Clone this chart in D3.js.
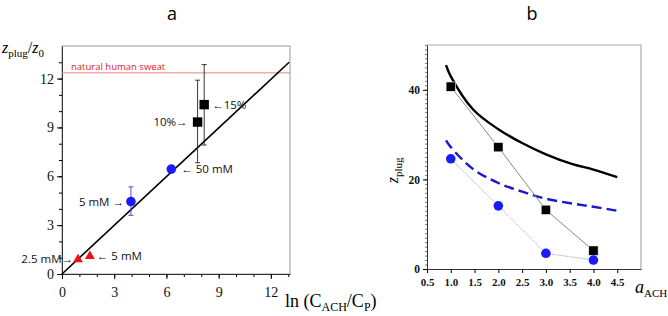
<!DOCTYPE html>
<html>
<head>
<meta charset="utf-8">
<script src="https://cdn.jsdelivr.net/npm/d3@7"></script>
<style>
  body { margin: 0; background: #fff; }
  svg { display: block; }
  .tick text { font-family: "Liberation Serif", serif; fill: #111; }
  .ann { font-family: "Open Sans", sans-serif; font-size: 11.5px; fill: #111; }
</style>
</head>
<body>
<div id="chart"></div>
<script>
// panel a: z_plug/z0 vs ln(C_ACH/C_P)
const triX = [0.92, 1.6], triY = [0.9, 1.1];
const circX = [3.96, 6.28], circY = [4.45, 6.44];
const circLo = [3.6, 6.44], circHi = [5.35, 6.44];
const sqX = [7.79, 8.17], sqY = [9.33, 10.4];
const sqLo = [6.83, 7.92], sqHi = [11.9, 12.86];
const fitX = [0, 13.05], fitY = [0, 13.0];
const sweatLevel = 12.35;
const aTicks = [0, 3, 6, 9, 12];

// panel b: z_plug vs a_ACH
const bX = [1, 2, 3, 4];
const bSq = [40.7, 27.2, 13.2, 4.1];
const bCirc = [24.6, 14.1, 3.5, 2.0];
const curveX = [0.9, 1.0, 1.47, 2.0, 2.52, 3.0, 3.56, 4.0, 4.5];
const curveBlack = [45.5, 43.0, 35.6, 31.2, 28.0, 25.6, 23.4, 22.2, 20.5];
const curveBlue = [28.7, 27.2, 22.3, 19.2, 17.2, 15.7, 14.6, 13.9, 13.0];
const bXTicks = [0.5, 1.0, 1.5, 2.0, 2.5, 3.0, 3.5, 4.0, 4.5];
const bYTicks = [0, 20, 40];

const W = 668, H = 316;
const svg = d3.select('#chart').append('svg').attr('width', W).attr('height', H);
svg.append('rect').attr('width', W).attr('height', H).attr('fill', '#fff');

// titles
svg.append('text').attr('x', 172).attr('y', 20).attr('text-anchor', 'middle')
  .attr('font-family', 'Open Sans, sans-serif').attr('font-size', 18).text('a');
svg.append('text').attr('x', 532).attr('y', 20).attr('text-anchor', 'middle')
  .attr('font-family', 'Open Sans, sans-serif').attr('font-size', 18).text('b');

// ---------- panel a ----------
const xa = d3.scaleLinear().domain([0, 13.1]).range([62, 290]);
const ya = d3.scaleLinear().domain([0, 14]).range([274, 46]);
const ga = svg.append('g');

ga.append('rect').attr('x', xa(0)).attr('y', ya(14))
  .attr('width', xa(13.1) - xa(0)).attr('height', ya(0) - ya(14))
  .attr('fill', 'none').attr('stroke', '#999').attr('stroke-width', 1);

// minor ticks
ga.append('g').attr('transform', `translate(0,${ya(0)})`)
  .call(d3.axisBottom(xa).tickValues(d3.range(0, 14, 1)).tickSize(3).tickFormat('').tickSizeOuter(0))
  .call(g => g.select('.domain').remove());
ga.append('g').attr('transform', `translate(${xa(0)},0)`)
  .call(d3.axisLeft(ya).tickValues(d3.range(0, 14, 1)).tickSize(3).tickFormat('').tickSizeOuter(0))
  .call(g => g.select('.domain').remove());
// major ticks
ga.append('g').attr('transform', `translate(0,${ya(0)})`)
  .call(d3.axisBottom(xa).tickValues(aTicks).tickSize(5).tickPadding(8).tickSizeOuter(0))
  .call(g => g.selectAll('text').attr('font-size', 14))
  .call(g => g.select('.domain').attr('stroke', '#333'));
ga.append('g').attr('transform', `translate(${xa(0)},0)`)
  .call(d3.axisLeft(ya).tickValues(aTicks).tickSize(5).tickPadding(3).tickSizeOuter(0))
  .call(g => g.selectAll('text').attr('font-size', 14))
  .call(g => g.select('.domain').attr('stroke', '#333'));

// natural human sweat
ga.append('line').attr('x1', xa(0)).attr('x2', xa(13.1))
  .attr('y1', ya(sweatLevel)).attr('y2', ya(sweatLevel))
  .attr('stroke', '#f08080').attr('stroke-width', 1);
ga.append('text').attr('x', xa(0) + 9).attr('y', ya(sweatLevel) - 3)
  .attr('font-family', 'Open Sans, sans-serif').attr('font-size', 9.5)
  .attr('fill', '#e0202a').text('natural human sweat');

// fit line
ga.append('path').datum(d3.zip(fitX, fitY))
  .attr('d', d3.line().x(d => xa(d[0])).y(d => ya(d[1])))
  .attr('fill', 'none').attr('stroke', '#000').attr('stroke-width', 1.6);

// error bars
function errBars(xs, lo, hi, col) {
  const d = xs.map((x, i) => ({ x, lo: lo[i], hi: hi[i] })).filter(e => e.hi > e.lo);
  ga.selectAll(null).data(d).enter().append('line')
    .attr('x1', e => xa(e.x)).attr('x2', e => xa(e.x))
    .attr('y1', e => ya(e.lo)).attr('y2', e => ya(e.hi))
    .attr('stroke', col).attr('stroke-width', 0.9);
  ['lo', 'hi'].forEach(k => {
    ga.selectAll(null).data(d).enter().append('line')
      .attr('x1', e => xa(e.x) - 2.5).attr('x2', e => xa(e.x) + 2.5)
      .attr('y1', e => ya(e[k])).attr('y2', e => ya(e[k]))
      .attr('stroke', col).attr('stroke-width', 0.9);
  });
}
errBars(circX, circLo, circHi, '#3344cc');
errBars(sqX, sqLo, sqHi, '#222');

// markers
ga.selectAll('.tri').data(d3.zip(triX, triY)).enter().append('path')
  .attr('transform', d => `translate(${xa(d[0])},${ya(d[1])})`)
  .attr('d', d3.symbol(d3.symbolTriangle, 42)).attr('fill', '#ee1111');
ga.selectAll('.circ').data(d3.zip(circX, circY)).enter().append('circle')
  .attr('cx', d => xa(d[0])).attr('cy', d => ya(d[1])).attr('r', 4.8).attr('fill', '#1a1aff');
ga.selectAll('.sq').data(d3.zip(sqX, sqY)).enter().append('rect')
  .attr('x', d => xa(d[0]) - 4.7).attr('y', d => ya(d[1]) - 4.7)
  .attr('width', 9.4).attr('height', 9.4).attr('fill', '#000');

// annotations
const ann = [
  { t: '←15%', x: sqX[1], y: sqY[1], dx: 8, a: 'start' },
  { t: '10%→', x: sqX[0], y: sqY[0], dx: -10, a: 'end' },
  { t: '← 50 mM', x: circX[1], y: circY[1], dx: 10, a: 'start' },
  { t: '5 mM →', x: circX[0], y: circY[0], dx: -7, a: 'end' },
  { t: '← 5 mM', x: triX[1], y: triY[1], dx: 7, a: 'start' },
  { t: '2.5 mM→', x: triX[0], y: triY[0], dx: -5, a: 'end' }
];
ga.selectAll('.ann').data(ann).enter().append('text').attr('class', 'ann')
  .attr('x', d => xa(d.x) + d.dx).attr('y', d => ya(d.y) + 4)
  .attr('text-anchor', d => d.a).text(d => d.t);

// axis titles
const ta = ga.append('text').attr('x', 2).attr('y', 53)
  .attr('font-family', 'Liberation Serif, serif').attr('font-size', 16);
ta.append('tspan').attr('font-style', 'italic').text('z');
ta.append('tspan').attr('font-size', 11).attr('dy', 4).text('plug');
ta.append('tspan').attr('dy', -4).text('/');
ta.append('tspan').attr('font-style', 'italic').text('z');
ta.append('tspan').attr('font-size', 11).attr('dy', 4).text('0');

const tx = ga.append('text').attr('x', 285).attr('y', 307)
  .attr('font-family', 'Liberation Serif, serif').attr('font-size', 18);
tx.append('tspan').text('ln (C');
tx.append('tspan').attr('font-size', 12).attr('dy', 4).text('ACH');
tx.append('tspan').attr('dy', -4).text('/C');
tx.append('tspan').attr('font-size', 12).attr('dy', 4).text('P');
tx.append('tspan').attr('dy', -4).text(')');

// ---------- panel b ----------
const xb = d3.scaleLinear().domain([0.5, 5.0]).range([427, 641]);
const yb = d3.scaleLinear().domain([0, 50]).range([269, 45]);
const gb = svg.append('g');

gb.append('path')
  .attr('d', `M${xb(0.5)},${yb(50)}H${xb(5)}V${yb(0)}`)
  .attr('fill', 'none').attr('stroke', '#aaa').attr('stroke-width', 1.2);

gb.append('g').attr('transform', `translate(${xb(0.5)},0)`)
  .call(d3.axisLeft(yb).tickValues(d3.range(0, 51, 1)).tickSize(2).tickFormat('').tickSizeOuter(0))
  .call(g => g.select('.domain').remove())
  .call(g => g.selectAll('line').attr('stroke', '#777'));
gb.append('g').attr('transform', `translate(${xb(0.5)},0)`)
  .call(d3.axisLeft(yb).tickValues(bYTicks).tickSize(4).tickPadding(3).tickSizeOuter(0))
  .call(g => g.selectAll('text').attr('font-size', 11.5).attr('font-weight', 'bold'))
  .call(g => g.select('.domain').attr('stroke', '#333'));
gb.append('g').attr('transform', `translate(0,${yb(0)})`)
  .call(d3.axisBottom(xb).tickValues(bXTicks).tickFormat(d3.format('.1f')).tickSize(4).tickPadding(5).tickSizeOuter(0))
  .call(g => g.selectAll('text').attr('font-size', 11).attr('font-weight', 'bold'))
  .call(g => g.select('.domain').attr('stroke', '#333'));

const lineB = d3.line().x(d => xb(d[0])).y(d => yb(d[1]));
const smoothB = d3.line().x(d => xb(d[0])).y(d => yb(d[1])).curve(d3.curveCatmullRom);

gb.append('path').datum(d3.zip(curveX, curveBlack)).attr('d', smoothB)
  .attr('fill', 'none').attr('stroke', '#000').attr('stroke-width', 2.4);
gb.append('path').datum(d3.zip(curveX, curveBlue)).attr('d', smoothB)
  .attr('fill', 'none').attr('stroke', '#1a1acc').attr('stroke-width', 2.4)
  .attr('stroke-dasharray', '10,5');

gb.append('path').datum(d3.zip(bX, bSq)).attr('d', lineB)
  .attr('fill', 'none').attr('stroke', '#888').attr('stroke-width', 1);
gb.append('path').datum(d3.zip(bX, bCirc)).attr('d', lineB)
  .attr('fill', 'none').attr('stroke', '#a8a8e8').attr('stroke-width', 1)
  .attr('stroke-dasharray', '1.5,1');

gb.selectAll('.bs').data(d3.zip(bX, bSq)).enter().append('rect')
  .attr('x', d => xb(d[0]) - 4.7).attr('y', d => yb(d[1]) - 4.7)
  .attr('width', 9.4).attr('height', 9.4).attr('fill', '#000')
  .attr('stroke', '#fff').attr('stroke-width', 0.6);
gb.selectAll('.bc').data(d3.zip(bX, bCirc)).enter().append('circle')
  .attr('cx', d => xb(d[0])).attr('cy', d => yb(d[1])).attr('r', 4.8).attr('fill', '#1a1aff');

const tyb = gb.append('text').attr('transform', `translate(398,${yb(22)}) rotate(-90)`)
  .attr('text-anchor', 'middle').attr('font-family', 'Liberation Serif, serif').attr('font-size', 16);
tyb.append('tspan').attr('font-style', 'italic').text('z');
tyb.append('tspan').attr('font-size', 11).attr('dy', 4).text('plug');

const txb = gb.append('text').attr('x', 635).attr('y', 293)
  .attr('font-family', 'Liberation Serif, serif').attr('font-size', 18);
txb.append('tspan').attr('font-style', 'italic').text('a');
txb.append('tspan').attr('font-size', 11).attr('dy', 4).text('ACH');
</script>
</body>
</html>
